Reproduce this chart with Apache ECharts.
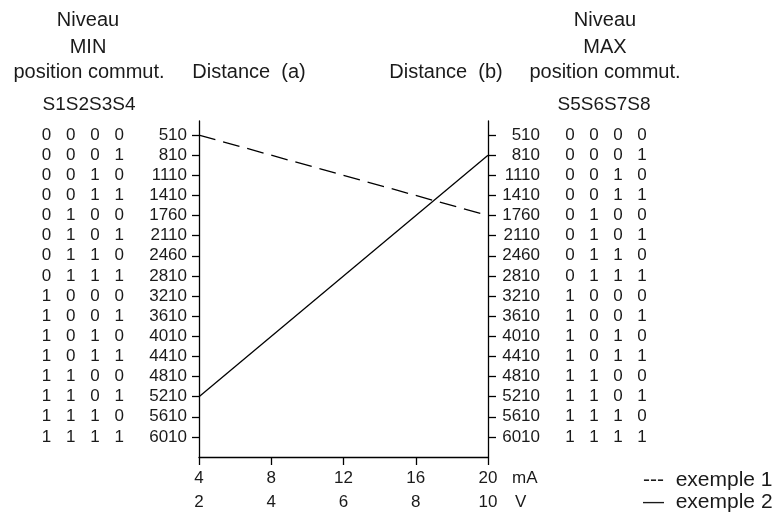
<!DOCTYPE html>
<html><head><meta charset="utf-8">
<script src="https://cdn.jsdelivr.net/npm/echarts@6/dist/echarts.min.js"></script>
<style>html,body{margin:0;padding:0;background:#fff}#c{width:780px;height:515px}</style>
</head><body><div id="c"></div>
<script>
// ---- data ----
const distancesA = ['510','810','1110','1410','1760','2110','2460','2810','3210','3610','4010','4410','4810','5210','5610','6010'];
const distancesB = ['510','810','1110','1410','1760','2110','2460','2810','3210','3610','4010','4410','4810','5210','5610','6010'];
const bitsMin = [
  [0,0,0,0],[0,0,0,1],[0,0,1,0],[0,0,1,1],
  [0,1,0,0],[0,1,0,1],[0,1,1,0],[0,1,1,1],
  [1,0,0,0],[1,0,0,1],[1,0,1,0],[1,0,1,1],
  [1,1,0,0],[1,1,0,1],[1,1,1,0],[1,1,1,1]
];
const bitsMax = [
  [0,0,0,0],[0,0,0,1],[0,0,1,0],[0,0,1,1],
  [0,1,0,0],[0,1,0,1],[0,1,1,0],[0,1,1,1],
  [1,0,0,0],[1,0,0,1],[1,0,1,0],[1,0,1,1],
  [1,1,0,0],[1,1,0,1],[1,1,1,0],[1,1,1,1]
];
const currentTicksMA = [4, 8, 12, 16, 20];
const voltageTicksV = [2, 4, 6, 8, 10];
// each example: [current (mA), distance] at the two ends
const exemple1 = [[4, '510'], [20, '1760']];
const exemple2 = [[4, '5210'], [20, '810']];

// ---- chart ----
const FONT = 'Liberation Sans';
const TXT = '#1a1a1a';
const rows = distancesA.map((_, i) => i);
const toPts = (ex) => [[ex[0][0], distancesA.indexOf(ex[0][1])], [ex[1][0], distancesB.indexOf(ex[1][1])]];
const bitFmt = (arr) => (v) => arr[v].map(b => '{b|' + b + '}').join('');

const yBase = {
  type: 'value', inverse: true, min: -0.7, max: 16,
  splitLine: { show: false }
};
const axisLineStyle = { color: '#000', width: 1.3 };
const numLabel = { fontFamily: FONT, fontSize: 17, color: TXT };

const chart = echarts.init(document.getElementById('c'), null, { renderer: 'canvas' });
chart.setOption({
  animation: false,
  backgroundColor: '#fff',
  grid: { left: 199, right: 292, top: 121, bottom: 58, containLabel: false },
  xAxis: [
    {
      type: 'value', position: 'bottom', min: currentTicksMA[0], max: currentTicksMA[currentTicksMA.length - 1], interval: 4,
      axisLine: { show: true, onZero: false, lineStyle: axisLineStyle },
      axisTick: { show: true, length: 8, lineStyle: axisLineStyle },
      axisLabel: Object.assign({ margin: 13, formatter: v => String(v) }, numLabel),
      splitLine: { show: false },
      name: 'mA', nameLocation: 'end', nameGap: 24,
      nameTextStyle: Object.assign({ verticalAlign: 'top', padding: [13, 0, 0, 0] }, numLabel)
    },
    {
      type: 'value', position: 'bottom', min: voltageTicksV[0], max: voltageTicksV[voltageTicksV.length - 1], interval: 2,
      axisLine: { show: false, onZero: false },
      axisTick: { show: false },
      axisLabel: Object.assign({ margin: 37 }, numLabel),
      splitLine: { show: false },
      name: 'V', nameLocation: 'end', nameGap: 27,
      nameTextStyle: Object.assign({ verticalAlign: 'top', padding: [37, 0, 0, 0] }, numLabel)
    }
  ],
  yAxis: [
    Object.assign({}, yBase, {
      position: 'left',
      axisLine: { show: true, onZero: false, lineStyle: axisLineStyle },
      axisTick: { show: true, length: 7, customValues: rows, lineStyle: axisLineStyle },
      axisLabel: Object.assign({ customValues: rows, margin: 12, formatter: v => distancesA[v] }, numLabel)
    }),
    Object.assign({}, yBase, {
      position: 'left',
      axisLine: { show: false, onZero: false },
      axisTick: { show: false },
      axisLabel: Object.assign({ customValues: rows, margin: 67.5, formatter: bitFmt(bitsMin),
        rich: { b: { width: 24.3, align: 'center', fontFamily: FONT, fontSize: 17, color: TXT } } }, numLabel)
    }),
    Object.assign({}, yBase, {
      position: 'right',
      axisLine: { show: true, onZero: false, lineStyle: axisLineStyle },
      axisTick: { show: true, length: 8, customValues: rows, lineStyle: axisLineStyle },
      axisLabel: Object.assign({ customValues: rows, margin: 52, align: 'right', formatter: v => distancesB[v] }, numLabel)
    }),
    Object.assign({}, yBase, {
      position: 'right',
      axisLine: { show: false, onZero: false },
      axisTick: { show: false },
      axisLabel: Object.assign({ customValues: rows, margin: 70, formatter: bitFmt(bitsMax),
        rich: { b: { width: 24, align: 'center', fontFamily: FONT, fontSize: 17, color: TXT } } }, numLabel)
    })
  ],
  legend: {
    data: ['exemple 1', 'exemple 2'],
    orient: 'vertical', left: 638, top: 470, height: 80, padding: 0,
    icon: 'none', itemWidth: 0, itemHeight: 12, itemGap: 1,
    selectedMode: false,
    formatter: n => (n === 'exemple 1' ? '---  ' : '\u2014  ') + n,
    textStyle: { fontFamily: FONT, fontSize: 21, color: TXT }
  },
  series: [
    {
      name: 'exemple 1', type: 'line', xAxisIndex: 0, yAxisIndex: 0,
      data: toPts(exemple1), showSymbol: false, symbol: 'none',
      lineStyle: { color: '#000', width: 1.3, type: [17, 8] }
    },
    {
      name: 'exemple 2', type: 'line', xAxisIndex: 0, yAxisIndex: 0,
      data: toPts(exemple2), showSymbol: false, symbol: 'none',
      lineStyle: { color: '#000', width: 1.3, type: 'solid' }
    }
  ],
  graphic: [
    ['Niveau', 88, 20], ['MIN', 88, 47], ['position commut.', 89, 72], ['Distance  (a)', 249, 72],
    ['Niveau', 605, 20], ['MAX', 605, 47], ['position commut.', 605, 72], ['Distance  (b)', 446, 72]
  ].map(t => ({
    type: 'text', x: t[1], y: t[2],
    style: { text: t[0], fill: TXT, font: '20px "' + FONT + '"', textAlign: 'center', textVerticalAlign: 'middle' }
  })).concat([
    ['S1S2S3S4', 89, 105], ['S5S6S7S8', 604, 105]
  ].map(t => ({
    type: 'text', x: t[1], y: t[2],
    style: { text: t[0], fill: TXT, font: '19px "' + FONT + '"', textAlign: 'center', textVerticalAlign: 'middle' }
  })))
});
</script>
</body></html>
